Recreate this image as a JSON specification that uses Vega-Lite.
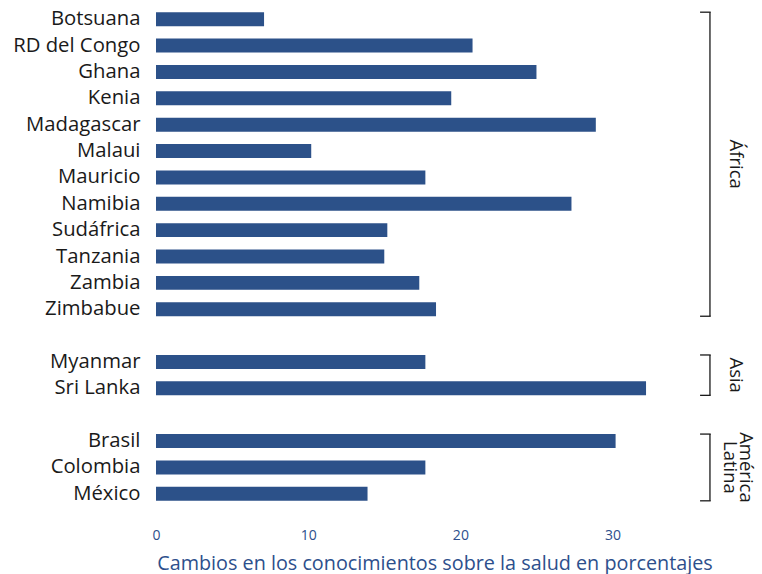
{
  "$schema": "https://vega.github.io/schema/vega-lite/v6.json",
  "width": 557,
  "height": 501,
  "padding": {"left": 5, "top": 6, "right": 5, "bottom": 5},
  "autosize": {"type": "pad"},
  "config": {"view": {"stroke": null}, "font": "Open Sans"},
  "datasets": {
    "bars": [
      {"pais": "Botsuana", "valor": 7.1},
      {"pais": "RD del Congo", "valor": 20.8},
      {"pais": "Ghana", "valor": 25.0},
      {"pais": "Kenia", "valor": 19.4},
      {"pais": "Madagascar", "valor": 28.9},
      {"pais": "Malaui", "valor": 10.2},
      {"pais": "Mauricio", "valor": 17.7},
      {"pais": "Namibia", "valor": 27.3},
      {"pais": "Sudáfrica", "valor": 15.2},
      {"pais": "Tanzania", "valor": 15.0},
      {"pais": "Zambia", "valor": 17.3},
      {"pais": "Zimbabue", "valor": 18.4},
      {"pais": "Myanmar", "valor": 17.7},
      {"pais": "Sri Lanka", "valor": 32.2},
      {"pais": "Brasil", "valor": 30.2},
      {"pais": "Colombia", "valor": 17.7},
      {"pais": "México", "valor": 13.9}
    ],
    "grupos": [
      {"grupo": "África", "primero": "Botsuana", "ultimo": "Zimbabue", "ancla": "Malaui"},
      {"grupo": "Asia", "primero": "Myanmar", "ultimo": "Sri Lanka", "ancla": "Myanmar"},
      {"grupo": "América Latina", "primero": "Brasil", "ultimo": "México", "ancla": "Colombia"}
    ]
  },
  "layer": [
    {
      "data": {"name": "bars"},
      "mark": {"type": "bar", "color": "#2c5189"},
      "encoding": {
        "y": {
          "field": "pais", "type": "nominal", "title": null,
          "scale": {
            "domain": ["Botsuana", "RD del Congo", "Ghana", "Kenia", "Madagascar", "Malaui", "Mauricio", "Namibia", "Sudáfrica", "Tanzania", "Zambia", "Zimbabue", "_1", "Myanmar", "Sri Lanka", "_2", "Brasil", "Colombia", "México"],
            "paddingInner": 0.47, "paddingOuter": 0.235
          },
          "axis": {
            "domain": false, "ticks": false, "tickSize": 0,
            "labelPadding": 16, "labelFontSize": 20.3, "labelColor": "#1a1a1a",
            "labelExpr": "indexof(datum.label, '_') == 0 ? '' : datum.label",
            "minExtent": 151, "maxExtent": 151
          }
        },
        "x": {
          "field": "valor", "type": "quantitative",
          "title": "Cambios en los conocimientos sobre la salud en porcentajes",
          "scale": {"domain": [0, 36.6], "nice": false},
          "axis": {
            "values": [0, 10, 20, 30], "grid": false, "domain": false, "ticks": false, "tickSize": 0,
            "labelFlush": false,
            "labelPadding": 21, "labelFontSize": 14, "labelColor": "#2d4f8c",
            "titleColor": "#2d4f8c", "titleFontSize": 19.8, "titleFontWeight": "normal", "titlePadding": 11
          }
        }
      }
    },
    {
      "data": {"name": "grupos"},
      "mark": {"type": "rule", "color": "#1a1a1a", "strokeWidth": 1.3, "yOffset": -7, "y2Offset": 7},
      "encoding": {
        "y": {"field": "primero", "type": "nominal", "title": null},
        "y2": {"field": "ultimo"},
        "x": {"datum": 36.4, "type": "quantitative", "title": null}
      }
    },
    {
      "data": {"name": "grupos"},
      "mark": {"type": "rule", "color": "#1a1a1a", "strokeWidth": 1.3, "yOffset": -7},
      "encoding": {
        "y": {"field": "primero", "type": "nominal", "title": null},
        "x": {"datum": 35.75, "type": "quantitative", "title": null},
        "x2": {"datum": 36.45}
      }
    },
    {
      "data": {"name": "grupos"},
      "mark": {"type": "rule", "color": "#1a1a1a", "strokeWidth": 1.3, "yOffset": 7},
      "encoding": {
        "y": {"field": "ultimo", "type": "nominal", "title": null},
        "x": {"datum": 35.75, "type": "quantitative", "title": null},
        "x2": {"datum": 36.45}
      }
    },
    {
      "data": {"name": "grupos"},
      "transform": [{"filter": "datum.grupo != 'América Latina'"}],
      "mark": {"type": "text", "angle": 90, "align": "center", "baseline": "middle", "fontSize": 18.5, "color": "#1a1a1a", "yOffset": 13.2},
      "encoding": {
        "y": {"field": "ancla", "type": "nominal", "title": null},
        "x": {"datum": 38.1, "type": "quantitative", "title": null},
        "text": {"field": "grupo"}
      }
    },
    {
      "data": {"name": "grupos"},
      "transform": [{"filter": "datum.grupo == 'América Latina'"}],
      "mark": {"type": "text", "angle": 90, "align": "center", "baseline": "middle", "fontSize": 18.5, "color": "#1a1a1a", "lineBreak": " ", "lineHeight": 16.5},
      "encoding": {
        "y": {"field": "ancla", "type": "nominal", "title": null},
        "x": {"datum": 38.8, "type": "quantitative", "title": null},
        "text": {"field": "grupo"}
      }
    }
  ]
}
